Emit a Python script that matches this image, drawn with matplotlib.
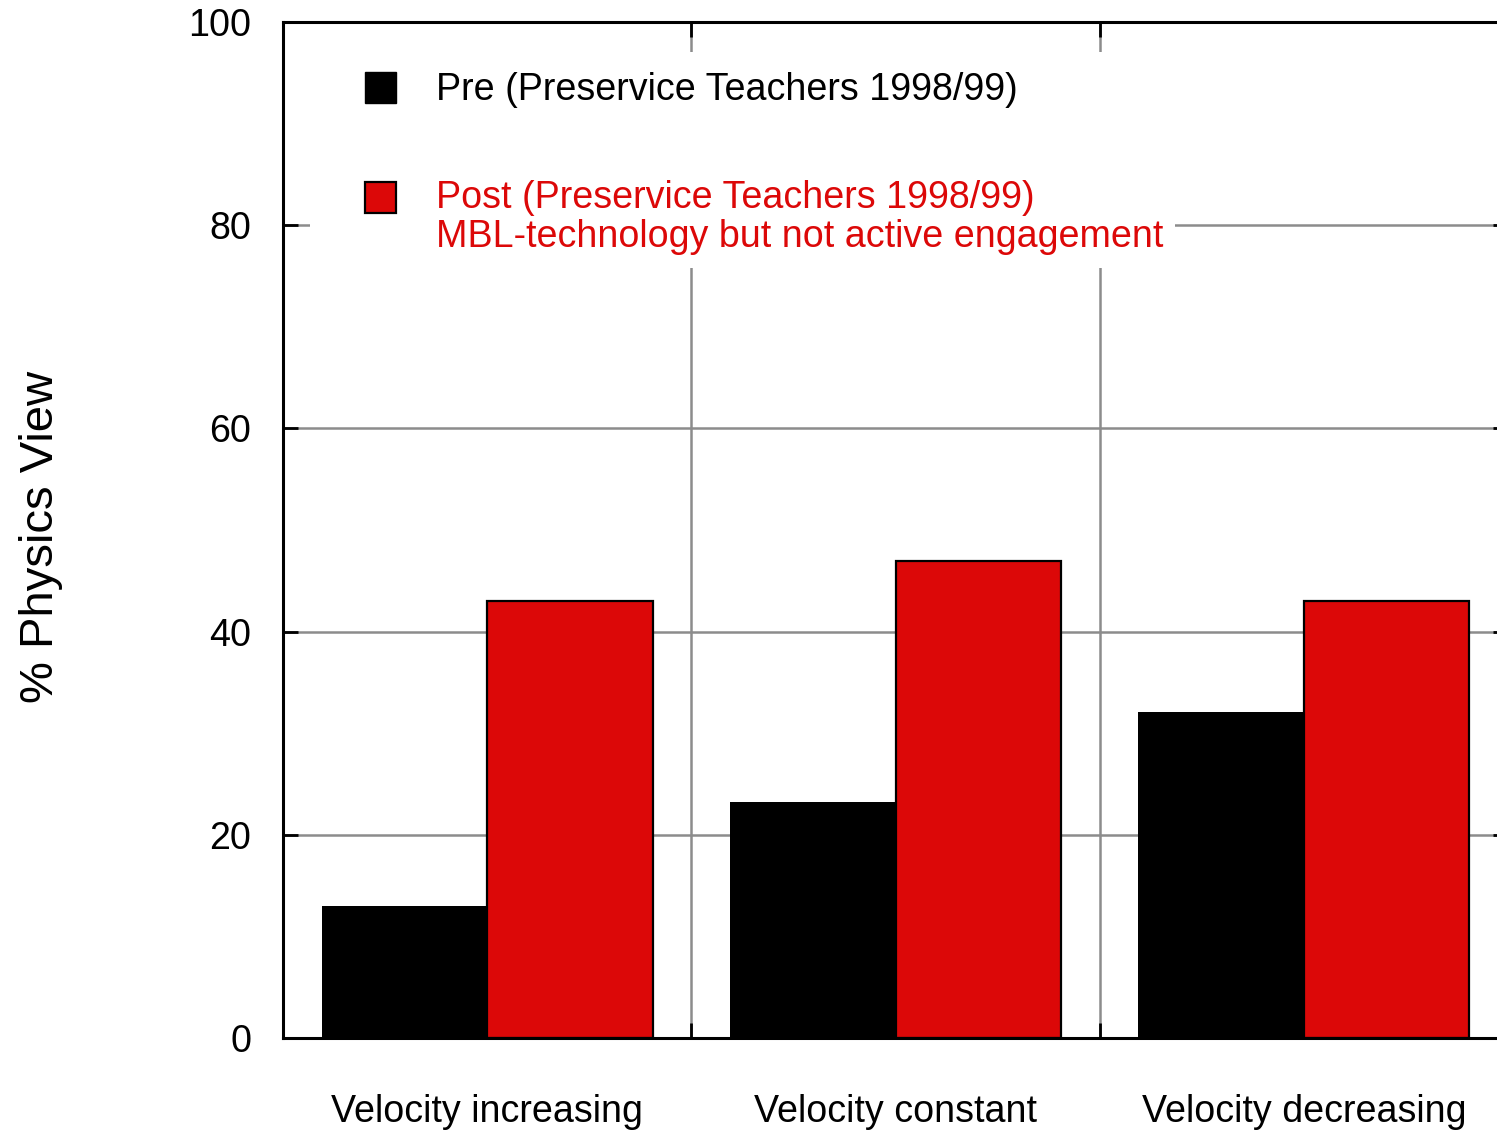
import matplotlib.pyplot as plt
from matplotlib.patches import Rectangle
import numpy as np

plt.rcParams['font.family'] = ['Liberation Sans', 'DejaVu Sans']

categories = ['Velocity increasing', 'Velocity constant', 'Velocity decreasing']
pre = [13.0, 23.2, 32.1]
post = [43.0, 46.9, 43.0]
yticks = [0, 20, 40, 60, 80, 100]

pre_label = 'Pre (Preservice Teachers 1998/99)'
post_label = ['Post (Preservice Teachers 1998/99)',
              'MBL-technology but not active engagement']

red = '#dc0808'
gray = '#8c8c8c'
fs = 27.1

fig = plt.figure(figsize=(14.97, 11.33), dpi=100, facecolor='white')
ax = fig.add_axes([283/1497, 95/1133, 1225/1497, 1016/1133])

x = np.arange(len(categories)) + 0.5
w = 0.405
ax.bar(x - w/2, pre, width=w, color='black', edgecolor='black', linewidth=0, zorder=3)
ax.bar(x + w/2, post, width=w, color=red, edgecolor='black', linewidth=1.6, zorder=3)

ax.set_xlim(0, len(categories))
ax.set_ylim(0, 100)

# boundaries between categories: ticks + vertical grid
ax.set_xticks(np.arange(1, len(categories)))
ax.set_xticklabels([])
ax.set_xticks(x, minor=True)
ax.set_xticklabels(categories, minor=True, fontsize=fs)
ax.tick_params(axis='x', which='minor', length=0, pad=40)

ax.set_yticks(yticks)
ax.set_yticklabels([str(v) for v in yticks], fontsize=fs)

ax.tick_params(which='major', direction='in', length=11, width=2,
               top=True, right=True, color='black')
ax.tick_params(axis='y', pad=23)

ax.grid(True, which='major', color=gray, linewidth=1.8, zorder=0)
ax.set_axisbelow(True)
for s in ax.spines.values():
    s.set_linewidth(2.2)
    s.set_zorder(6)

# legend drawn by hand so the marker sits with the first line
ax.add_patch(Rectangle((0.022, 0.758), 0.706, 0.212, transform=ax.transAxes,
                       facecolor='white', edgecolor='none', zorder=2))
ax.add_patch(Rectangle((0.0669, 0.920), 0.0253, 0.0305, transform=ax.transAxes,
                       facecolor='black', edgecolor='black', linewidth=1, zorder=4))
ax.add_patch(Rectangle((0.0669, 0.812), 0.0253, 0.0305, transform=ax.transAxes,
                       facecolor=red, edgecolor='black', linewidth=1.6, zorder=4))
tx = (436 - 283) / 1225
ax.text(tx, (1038 - 100) / 1016, pre_label, transform=ax.transAxes,
        fontsize=fs, color='black', va='baseline', ha='left', zorder=5)
ax.text(tx, (1038 - 208) / 1016, post_label[0], transform=ax.transAxes,
        fontsize=fs, color=red, va='baseline', ha='left', zorder=5)
ax.text(tx, (1038 - 247) / 1016, post_label[1], transform=ax.transAxes,
        fontsize=fs, color=red, va='baseline', ha='left', zorder=5)

fig.text(41/1497, 1 - 537/1133, '% Physics View', rotation=90,
         fontsize=34, ha='center', va='center')

fig.savefig('out.png', dpi=100, facecolor='white')
